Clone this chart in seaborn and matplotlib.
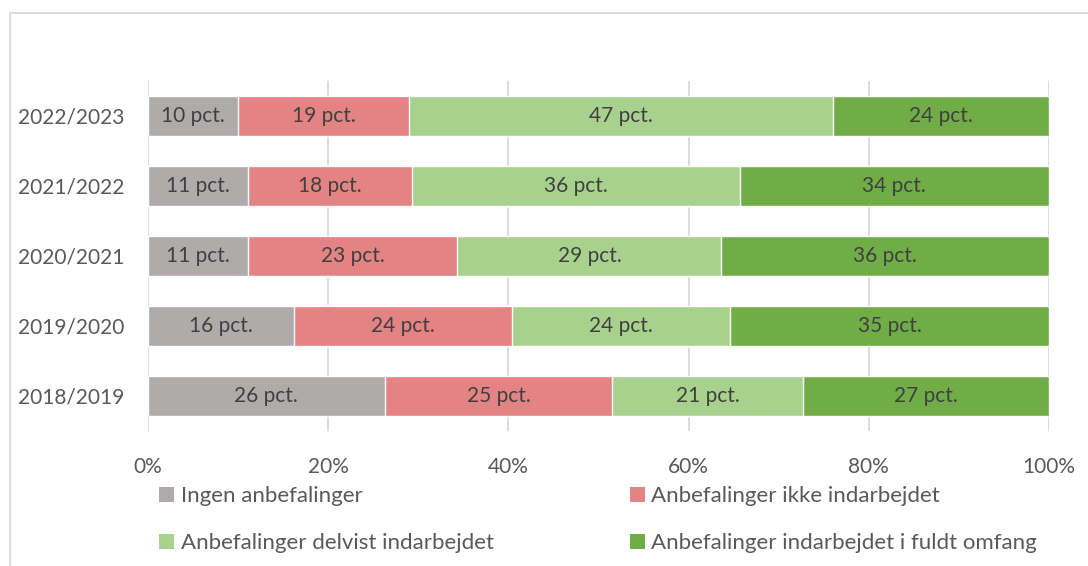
import numpy as np
import seaborn as sns
import matplotlib.pyplot as plt
from matplotlib.patches import Patch
from matplotlib.lines import Line2D

# data, top bar first
years = ['2022/2023', '2021/2022', '2020/2021', '2019/2020', '2018/2019']
ingen = [10, 11, 11, 16, 26]
ikke = [19, 18, 23, 24, 25]
delvist = [47, 36, 29, 24, 21]
fuldt = [24, 34, 36, 35, 27]

series_names = ['Ingen anbefalinger', 'Anbefalinger ikke indarbejdet',
                'Anbefalinger delvist indarbejdet', 'Anbefalinger indarbejdet i fuldt omfang']
colors = ['#AFABAB', '#E48383', '#A9D18E', '#70AD47']

sns.set_style('white')
plt.rcParams['font.family'] = ['Lato', 'DejaVu Sans']

vals = np.array([ingen, ikke, delvist, fuldt], dtype=float)
shares = vals / vals.sum(axis=0) * 100
cum = np.cumsum(shares, axis=0)

fig = plt.figure(figsize=(10.88, 5.66), dpi=100)
ax = fig.add_axes([148 / 1088, 1 - 431 / 566, (1049 - 148) / 1088, 350 / 566])

# stacked bars: draw cumulative totals from the back forward
for i in range(3, -1, -1):
    sns.barplot(x=cum[i], y=years, order=years, color=colors[i], width=0.57,
                saturation=1, ax=ax, zorder=2)

# segment labels
for i in range(4):
    for j, yr in enumerate(years):
        start = cum[i][j] - shares[i][j]
        ax.text(start + shares[i][j] / 2, j, f'{int(vals[i][j])} pct.',
                ha='center', va='center', fontsize=15, color='#404040', zorder=3)

ax.set_xlim(0, 100)
ax.set_ylim(4.5, -0.5)
ax.set_xticks([0, 20, 40, 60, 80, 100])
ax.set_xticklabels(['0%', '20%', '40%', '60%', '80%', '100%'])
ax.grid(axis='x', color='#D9D9D9', lw=1.3, zorder=0)
ax.set_axisbelow(True)
for s in ax.spines.values():
    s.set_visible(False)
ax.tick_params(axis='both', length=0, labelsize=15, labelcolor='#595959')
ax.tick_params(axis='x', pad=19)
ax.tick_params(axis='y', pad=17)
ax.set_xlabel('')
ax.set_ylabel('')

# legend, row-wise order
order = [0, 2, 1, 3]
handles = [Patch(facecolor=colors[k], edgecolor='none') for k in order]
labels = [series_names[k] for k in order]
fig.legend(handles, labels, ncol=2, loc='upper left', bbox_to_anchor=(155 / 1088, 1 - 482 / 566),
           frameon=False, fontsize=16, labelcolor='#595959', handlelength=0.65, handleheight=0.65,
           handletextpad=0.3, columnspacing=6.15, labelspacing=1.2, borderaxespad=0, borderpad=0.2)

# outer frame lines
fig.add_artist(Line2D([9.5 / 1088, 9.5 / 1088], [0, 1 - 12.5 / 566], color='#D9D9D9', lw=1.3))
fig.add_artist(Line2D([9.5 / 1088, 1], [1 - 12.5 / 566, 1 - 12.5 / 566], color='#D9D9D9', lw=1.3))

fig.savefig('out.png', dpi=100)
